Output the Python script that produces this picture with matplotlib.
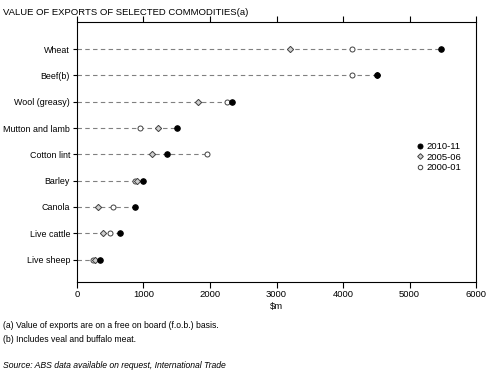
import matplotlib
matplotlib.use("Agg")
import matplotlib.pyplot as plt
import numpy as np

plt.rcParams['font.family'] = ['Liberation Sans', 'DejaVu Sans']

categories = ["Wheat", "Beef(b)", "Wool (greasy)", "Mutton and lamb", "Cotton lint",
              "Barley", "Canola", "Live cattle", "Live sheep"]
v2010 = [5474, 4511, 2331, 1504, 1353, 992, 872, 647, 346]
v2005 = [3203, 4511, 1820, 1218, 1128, 902, 316, 391, 270]
v2000 = [4135, 4135, 2255, 947, 1955, 872, 541, 496, 240]
series_labels = ["2010-11", "2005-06", "2000-01"]
xticks = [0, 1000, 2000, 3000, 4000, 5000, 6000]

fig = plt.figure(figsize=(4.91, 3.78), dpi=100)
ax = fig.add_axes([0.1568, 0.254, 0.8127, 0.688])

n = len(categories)
y = np.arange(n)
for i in range(n):
    m = max(v2010[i], v2005[i], v2000[i])
    ax.plot([0, m], [y[i], y[i]], color='#808080', lw=0.8, dashes=(4, 3), zorder=1)

ax.plot(v2000, y, ls='none', marker='o', ms=3.6, mfc='white', mec='#404040', mew=0.7,
        label=series_labels[2], zorder=3)
ax.plot(v2005, y, ls='none', marker='D', ms=3.2, mfc='#d0d0d0', mec='#404040', mew=0.7,
        label=series_labels[1], zorder=3)
ax.plot(v2010, y, ls='none', marker='o', ms=4, mfc='black', mec='black', mew=0.7,
        label=series_labels[0], zorder=4)

ax.set_xlim(0, 6000)
ax.set_ylim(n - 1 + 0.85, -1.03)
ax.set_yticks(y)
ax.set_yticklabels(categories, fontsize=6.4)
ax.set_xticks(xticks)
ax.set_xticklabels([str(t) for t in xticks], fontsize=6.8)
ax.tick_params(axis='x', direction='out', length=4, width=0.8, top=True, pad=2)
ax.tick_params(axis='y', direction='out', length=3, width=0.8, pad=2)
for s in ax.spines.values():
    s.set_linewidth(0.8)
ax.set_xlabel("$m", fontsize=6.8, labelpad=2)

handles, labels = ax.get_legend_handles_labels()
order = [2, 1, 0]
leg = ax.legend([handles[k] for k in order], [labels[k] for k in order],
                loc='center left', bbox_to_anchor=(0.84, 0.48), frameon=False,
                fontsize=6.8, handlelength=0.6, handletextpad=0.4, labelspacing=0.15,
                borderpad=0, markerscale=0.9)

fig.text(0.006, 0.968, "VALUE OF EXPORTS OF SELECTED COMMODITIES(a)", fontsize=6.8,
         va='center', ha='left')
fig.text(0.006, 0.138, "(a) Value of exports are on a free on board (f.o.b.) basis.",
         fontsize=6.2, va='center')
fig.text(0.006, 0.103, "(b) Includes veal and buffalo meat.", fontsize=6.2, va='center')
fig.text(0.006, 0.032, "Source: ABS data available on request, International Trade",
         fontsize=6.2, va='center', style='italic')

fig.savefig("out.png", dpi=100)
